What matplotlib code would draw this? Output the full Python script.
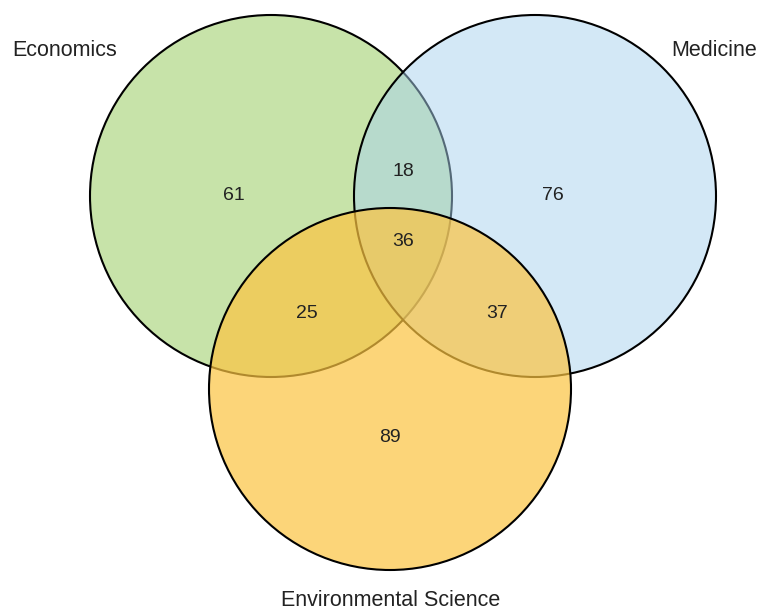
import matplotlib.pyplot as plt
from matplotlib.patches import Circle

# --- Data ---
set_names = ["Economics", "Medicine", "Environmental Science"]
region_keys = ["E", "M", "S", "EM", "ES", "MS", "EMS"]
region_counts = [61, 76, 89, 18, 25, 37, 36]

# --- Layout (pixel coords, y down) ---
centers = [(271, 196), (535, 196), (390, 389)]
radius = 181
fills = ["#91c955", "#a9d3ef", "#fcc441"]
alphas = [0.5, 0.5, 0.7]
label_pos = [(65, 51), (714, 51), (391, 601)]
count_pos = {
    "E": (234, 195), "M": (553, 195), "S": (390, 437),
    "EM": (403, 171), "ES": (307, 313), "MS": (497, 313), "EMS": (403, 242),
}

plt.rcParams["font.family"] = ["Liberation Sans", "DejaVu Sans"]

fig = plt.figure(figsize=(7.6, 6.12), dpi=100)
ax = fig.add_axes([0, 0, 1, 1])
ax.set_xlim(0, 760)
ax.set_ylim(612, 0)
ax.set_aspect("equal")
ax.axis("off")

for i, (c, col, a) in enumerate(zip(centers, fills, alphas)):
    ax.add_patch(Circle(c, radius, facecolor=col, alpha=a, edgecolor="none", zorder=2 * i))
    ax.add_patch(Circle(c, radius, facecolor="none", edgecolor="black", linewidth=1.5, zorder=2 * i + 1))

for name, pos in zip(set_names, label_pos):
    ax.text(pos[0], pos[1], name, ha="center", va="center", fontsize=15.5, color="#222222", zorder=10)

for key, n in zip(region_keys, region_counts):
    x, y = count_pos[key]
    ax.text(x, y, str(n), ha="center", va="center", fontsize=14, color="#222222", zorder=10)

fig.savefig("out.png", dpi=100, facecolor="white")
